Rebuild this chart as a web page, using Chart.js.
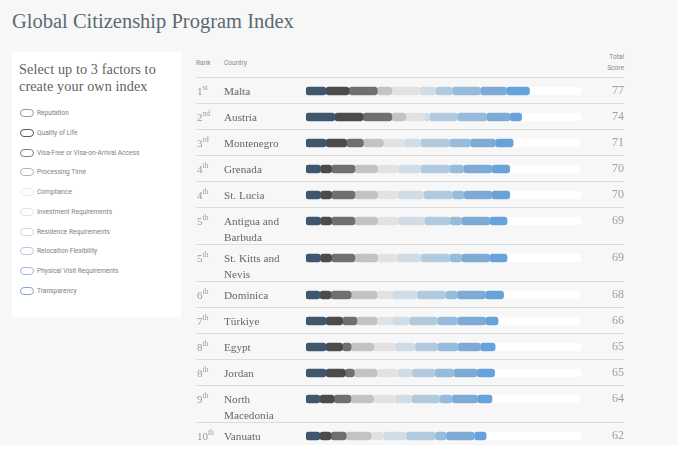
<!DOCTYPE html>
<html>
<head>
<meta charset="utf-8">
<script src="https://cdn.jsdelivr.net/npm/chart.js@4"></script>
<style>
    html, body { margin: 0; padding: 0; width: 685px; height: 449px; overflow: hidden; background: #fff; }
    body { position: relative; font-family: "Liberation Serif", serif; }
    #page { position: absolute; left: 0; top: 0; width: 678px; height: 445px; background: #f7f7f7; overflow: hidden; }
    h1 { position: absolute; left: 12px; top: 10px; margin: 0; font-size: 20.5px; font-weight: normal; color: #5c6973; white-space: nowrap; }
    #panel { position: absolute; left: 12px; top: 52px; width: 169px; height: 265px; background: #fff; }
    #panel h2 { position: absolute; left: 7px; top: 9px; margin: 0; font-size: 14.2px; line-height: 17px; font-weight: normal; letter-spacing: 0.1px; color: #5f5f5f; white-space: nowrap; }
    .factor { position: absolute; left: 8px; height: 10px; font: 6.6px/10px Roboto, sans-serif; color: #808080; white-space: nowrap; padding-left: 17px; }
    .factor i { position: absolute; left: 0; top: 1px; width: 12px; height: 6px; border: 1px solid #999; border-radius: 5px; background: #fff; }
    .head { position: absolute; font: 6.6px/11px Roboto, sans-serif; color: #8a8a8a; }
    #rows { position: absolute; left: 196px; top: 77px; width: 428px; }
    .row { position: relative; box-sizing: border-box; border-top: 1px solid #dcdcdc; }
    .rank { position: absolute; left: 1px; top: 6px; font-size: 11px; line-height: 15px; color: #9a9a9a; }
    .rank sup { font-size: 7.5px; line-height: 0; }
    .country { position: absolute; left: 28px; top: 6px; width: 66px; font-size: 11.2px; line-height: 15.5px; color: #666; }
    .score { position: absolute; right: 0; top: 5px; font-size: 12px; line-height: 15px; color: #a0a0a0; }
    .row canvas { position: absolute; left: 110px; top: 0; }
</style>
</head>
<body>
<div id="page">
<h1>Global Citizenship Program Index</h1>
<div id="panel"><h2>Select up to 3 factors to<br>create your own index</h2></div>
<div class="head" style="left:196px;top:58px">Rank</div>
<div class="head" style="left:224px;top:58px">Country</div>
<div class="head" style="right:54px;top:52px;text-align:right">Total<br>Score</div>
<div id="rows"></div>
</div>

<script>
// du lieu doc tu hinh
const countries = ['Malta', 'Austria', 'Montenegro', 'Grenada', 'St. Lucia', 'Antigua and Barbuda', 'St. Kitts and Nevis', 'Dominica', 'Türkiye', 'Egypt', 'Jordan', 'North Macedonia', 'Vanuatu'];
const rankNumbers = [1, 2, 3, 4, 4, 5, 5, 6, 7, 8, 8, 9, 10];
const rankSuffixes = ['st', 'nd', 'rd', 'th', 'th', 'th', 'th', 'th', 'th', 'th', 'th', 'th', 'th'];
const totalScores = [77, 74, 71, 70, 70, 69, 69, 68, 66, 65, 65, 64, 62];

const factorNames = ['Reputation', 'Quality of Life', 'Visa-Free or Visa-on-Arrival Access', 'Processing Time', 'Compliance', 'Investment Requirements', 'Residence Requirements', 'Relocation Flexibility', 'Physical Visit Requirements', 'Transparency'];

const reputation = [6.9, 9.9, 6.9, 5, 5, 5, 5, 4.8, 6.9, 6.9, 6.9, 4.8, 4.8];
const qualityOfLife = [7.9, 9.7, 7.1, 3.8, 3.8, 3.8, 3.8, 3.8, 5.7, 5.7, 6.6, 4.9, 3.8];
const visaFree = [9.7, 9.9, 5.7, 8, 8, 8, 8, 6.9, 4.9, 2.9, 3.1, 5.7, 5.2];
const processingTime = [5, 4.8, 6.9, 7.8, 7.8, 7.8, 7.8, 8.9, 6.9, 7.8, 7.8, 7.8, 8.6];
const compliance = [9.6, 6.3, 7.1, 7.1, 6.9, 7.1, 6.5, 5.2, 5.2, 7.3, 7.1, 7.3, 4.2];
const investment = [5.5, 1.8, 5.7, 7.7, 9, 9, 8.4, 8.6, 5.9, 6.9, 4.9, 5.8, 7.8];
const residence = [5.7, 9.7, 10, 10, 9.8, 8.8, 10, 9.8, 9.7, 7.8, 7.9, 9.7, 10];
const relocation = [9.7, 10, 7.1, 4.8, 4, 4, 4, 4, 6.9, 6.9, 6.5, 4.2, 3.8];
const physicalVisit = [9, 8, 8.6, 9.7, 9.6, 9.7, 9.7, 9.7, 9.7, 7.8, 8, 8.8, 9.7];
const transparency = [7.8, 4, 6.1, 6.1, 6.1, 5.9, 5.9, 6.2, 4.2, 5, 6, 4.9, 4];

const factorValues = [reputation, qualityOfLife, visaFree, processingTime, compliance, investment, residence, relocation, physicalVisit, transparency];
const factorColors = ['#3f566f', '#4b4b4b', '#707070', '#c3c3c3', '#e2e2e2', '#d0dce6', '#b2cade', '#97bbda', '#7eaad6', '#67a3da'];
const pillColors = ['#9a9a9a', '#5a5a5a', '#808080', '#b5b5b5', '#ececec', '#e2e2e2', '#d0d8e0', '#b8c8dc', '#a0b8dc', '#84a8d8'];
const trackMax = 94.5;

// Danh sach yeu to ben trai
const panel = document.getElementById('panel');
factorNames.forEach((name, i) => {
    const item = document.createElement('div');
    item.className = 'factor';
    item.style.top = Math.round(56 + i * 19.75) + 'px';
    item.innerHTML = `<i style="border-color:${pillColors[i]}"></i>${name}`;
    panel.appendChild(item);
});

// Moi quoc gia la mot dong, moi dong co mot bieu do
const rows = document.getElementById('rows');
countries.forEach((country, r) => {
    const row = document.createElement('div');
    row.className = 'row';
    row.style.height = (country.length > 10 ? 37 : 26) + 'px';
    row.innerHTML = `
        <div class="rank">${rankNumbers[r]}<sup>${rankSuffixes[r]}</sup></div>
        <div class="country">${country}</div>
        <div class="score">${totalScores[r]}</div>
        <canvas width="275" height="26" style="width:275px;height:26px"></canvas>`;
    rows.appendChild(row);

    // Thanh noi [dau, cuoi] de moi doan deu duoc bo tron
    let start = 0;
    const datasets = factorNames.map((name, i) => {
        const end = start + factorValues[i][r];
        const segment = {
            label: name,
            data: [[start, end]],
            backgroundColor: factorColors[i],
            grouped: false,
            order: 1,
            barThickness: 8,
            borderRadius: 3,
            borderSkipped: false
        };
        start = end;
        return segment;
    });
    // Thanh nen mau trang
    datasets.push({
        label: 'track',
        data: [[0, trackMax]],
        backgroundColor: '#ffffff',
        grouped: false,
        order: 2,
        barThickness: 8,
        borderRadius: 4,
        borderSkipped: false
    });

    new Chart(row.querySelector('canvas'), {
        type: 'bar',
        data: { labels: [country], datasets: datasets },
        options: {
            indexAxis: 'y',
            responsive: false,
            animation: false,
            layout: { padding: 0 },
            plugins: { legend: { display: false }, tooltip: { enabled: false } },
            scales: {
                x: { display: false, min: 0, max: trackMax },
                y: { display: false }
            }
        }
    });
});
</script>
</body>
</html>
